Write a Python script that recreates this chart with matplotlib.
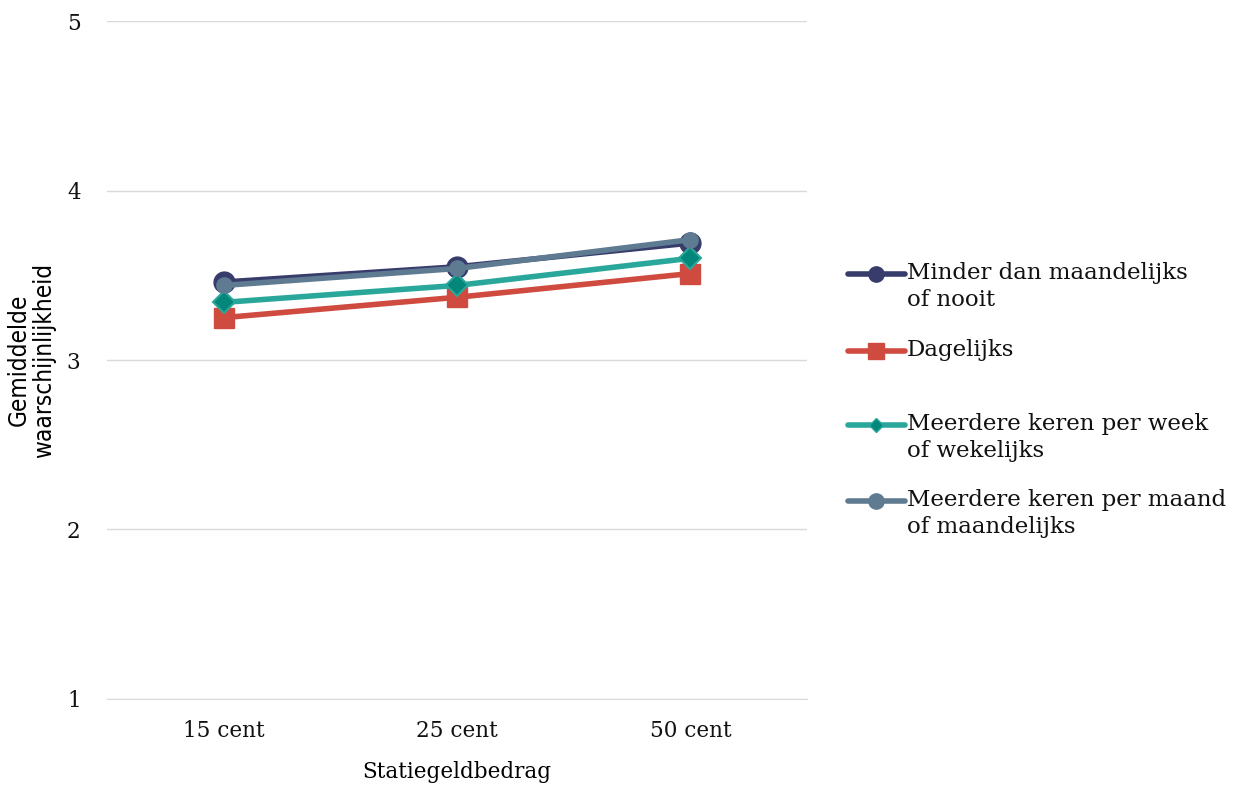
import matplotlib.pyplot as plt
from matplotlib.lines import Line2D

categories = ['15 cent', '25 cent', '50 cent']
minder = [3.46, 3.55, 3.69]
dagelijks = [3.25, 3.37, 3.51]
wekelijks = [3.34, 3.44, 3.60]
maandelijks = [3.44, 3.54, 3.71]

labels = ['Minder dan maandelijks\nof nooit', 'Dagelijks',
          'Meerdere keren per week\nof wekelijks', 'Meerdere keren per maand\nof maandelijks']
colors = ['#383c6b', '#cf4b40', '#2aa79b', '#5e7b92']

plt.rcParams['font.family'] = ['DejaVu Serif']

fig = plt.figure(figsize=(12.41, 7.85), dpi=100)
ax = fig.add_axes([0.0862, 0.1096, 0.5641, 0.8636])

x = range(len(categories))
ax.plot(x, minder, color=colors[0], lw=4, marker='o', ms=15, zorder=3)
ax.plot(x, dagelijks, color=colors[1], lw=4, marker='s', ms=15, zorder=3)
ax.plot(x, wekelijks, color=colors[2], lw=4, marker='D', ms=11,
        mfc='#03877a', mec=colors[2], mew=1.5, zorder=4)
ax.plot(x, maandelijks, color=colors[3], lw=4, marker='o', ms=11, zorder=5)

ax.set_xlim(-0.5, 2.5)
ax.set_ylim(1, 5)
ax.set_yticks([1, 2, 3, 4, 5])
ax.set_xticks(list(x))
ax.set_xticklabels(categories)
ax.grid(axis='y', color='#d9d9d9', lw=1)
ax.set_axisbelow(True)
for s in ax.spines.values():
    s.set_visible(False)
ax.spines['bottom'].set_visible(True)
ax.spines['bottom'].set_color('#d9d9d9')
ax.tick_params(length=0, labelsize=15.5, colors='#111111')
ax.tick_params(axis='y', pad=19)
ax.tick_params(axis='x', pad=15)
ax.set_xlabel('Statiegeldbedrag', fontsize=15.5, labelpad=14)
ax.set_ylabel('Gemiddelde\nwaarschijnlijkheid', fontsize=17.5, labelpad=8,
              family='DejaVu Sans', fontstretch='condensed', linespacing=1.05)

# legend built by hand so handles line up with the first text line (Excel style)
leg_y = [274, 351, 425, 501]
for lab, col, yy, (mk, ms, mfc) in zip(labels, colors, leg_y,
                                      [('o', 11, colors[0]), ('s', 11, colors[1]),
                                       ('D', 7, '#03877a'), ('o', 11, colors[3])]):
    yf = 1 - yy / 785
    fig.add_artist(Line2D([848 / 1241, 905 / 1241], [yf, yf], transform=fig.transFigure,
                          color=col, lw=4, solid_capstyle='round'))
    fig.add_artist(Line2D([876 / 1241], [yf], transform=fig.transFigure,
                          marker=mk, ms=ms, color=col, mfc=mfc, mec=col))
    fig.text(907 / 1241, yf + 12 / 785, lab, fontsize=16.5, va='top', ha='left',
             linespacing=1.32, color='#111111')

fig.savefig('out.png', dpi=100)
